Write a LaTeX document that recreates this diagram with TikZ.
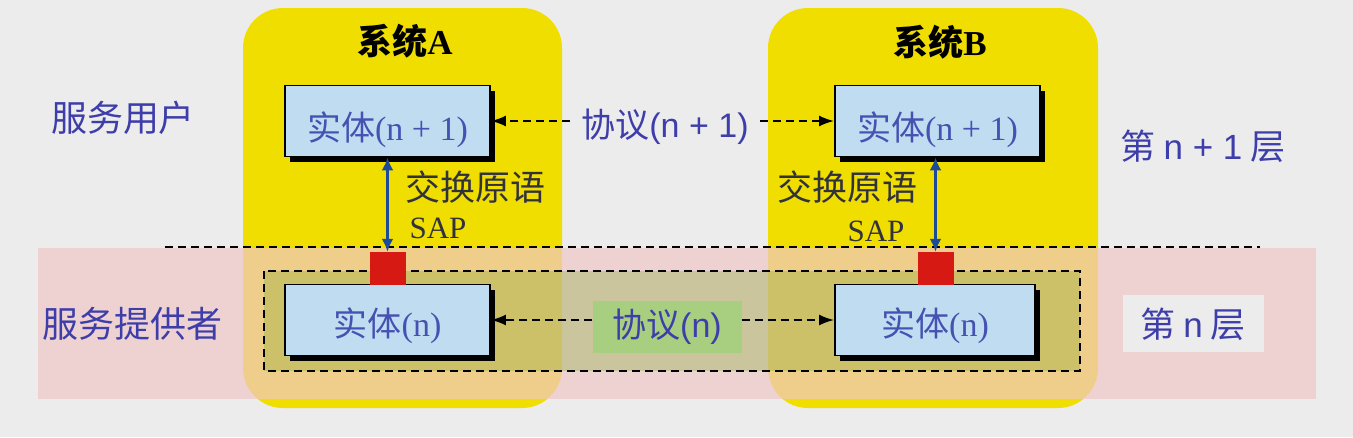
\documentclass[tikz,border=0pt]{standalone}
\usepackage{fontspec}
\setmainfont{Liberation Serif}
\newfontfamily\cjk{Noto Sans CJK SC}
\newfontfamily\lsans{Liberation Sans}
\usetikzlibrary{arrows.meta,shadows}
\definecolor{bg}{RGB}{236,236,236}
\definecolor{sysyellow}{RGB}{240,222,0}
\definecolor{pinkband}{RGB}{239,199,199}
\definecolor{olive}{RGB}{100,160,0}
\definecolor{entblue}{RGB}{192,220,240}
\definecolor{lblue}{RGB}{62,62,170}
\definecolor{eblue}{RGB}{70,82,178}
\definecolor{dgray}{RGB}{50,50,60}
\definecolor{arrblue}{RGB}{30,75,150}
\definecolor{redsq}{RGB}{215,25,20}
\definecolor{greenbox}{RGB}{168,207,128}
\tikzset{
  sysbox/.style={fill=sysyellow, rounded corners=40pt, inner sep=0pt},
  entbox/.style={draw=black, line width=1.8pt, fill=entblue, minimum width=205pt, minimum height=71pt,
    inner sep=0pt, text=eblue, font=\fontsize{34}{40}\selectfont,
    drop shadow={shadow xshift=5pt, shadow yshift=-5pt, fill=black, opacity=1}},
  lbl/.style={text=lblue, font=\cjk\fontsize{35}{40}\selectfont, inner sep=0pt},
  plbl/.style={text=lblue, font=\cjk\fontsize{34}{38}\selectfont},
  dlbl/.style={text=dgray, inner sep=0pt},
  title/.style={text=black, font=\bfseries\fontsize{35}{40}\selectfont, inner sep=0pt},
  dline/.style={line width=2pt, dash pattern=on 8pt off 5pt},
  darr/.style={dline, -{Latex[length=15pt,width=11pt]}},
  varr/.style={draw=arrblue, line width=3.4pt, {Latex[length=13pt,width=12pt]}-{Latex[length=13pt,width=12pt]}},
  sap/.style={fill=redsq, minimum width=36pt, minimum height=33pt, inner sep=0pt},
}
\begin{document}
\begin{tikzpicture}[x=1pt,y=-1pt]
\fill[bg] (0,0) rectangle (1353,437);
\useasboundingbox (0,0) rectangle (1353,437);
% systems
\node[sysbox, minimum width=319pt, minimum height=400pt] (sa) at (402.5,208) {};
\node[sysbox, minimum width=330pt, minimum height=400pt] (sb) at (933,208) {};
% pink band
\fill[pinkband, opacity=0.7] (38,248) rectangle (1316,399);
% layer separator
\coordinate (sepL) at (165,247);
\coordinate (sepR) at (1260,247);
\draw[dline] (sepL) -- (sepR);
% inner dashed region
\draw[dline, fill=olive, fill opacity=0.25] (264,271) rectangle (1080,371);
% titles
\node[title] (ta) at (405,41) {{\cjk 系统}A};
\node[title] (tb) at (940,42) {{\cjk 系统}B};
% entities
\node[entbox, text height=38pt, text depth=0pt] (a1) at (387.5,121) {{\cjk 实体}(n + 1)};
\node[entbox, text height=38pt, text depth=0pt] (b1) at (937.5,121) {{\cjk 实体}(n + 1)};
\node[entbox, text height=32pt, text depth=0pt] (a0) at (387.5,320) {{\cjk 实体}(n)};
\node[entbox, text height=32pt, text depth=0pt, minimum width=200pt] (b0) at (935,320) {{\cjk 实体}(n)};
% SAP squares
\node[sap] (ra) at (387.5,268.5) {};
\node[sap] (rb) at (935.5,268.5) {};
% vertical arrows
\draw[varr] (a1.south) -- (ra.north);
\draw[varr] (b1.south -| rb.north) -- (rb.north);
% labels
\node[dlbl, font=\cjk\fontsize{35}{40}\selectfont] (xa) at (475,187) {交换原语};
\node[dlbl, font=\cjk\fontsize{35}{40}\selectfont] (xb) at (847,187) {交换原语};
\node[dlbl, font=\fontsize{31}{36}\selectfont] (sapa) at (438,228) {SAP};
\node[dlbl, font=\fontsize{31}{36}\selectfont] (sapb) at (876,231) {SAP};
\node[lbl, font=\cjk\fontsize{36}{40}\selectfont] (user) at (123,118) {服务用户};
\node[lbl, font=\cjk\fontsize{36}{40}\selectfont] (prov) at (132,324) {服务提供者};
\node[lbl] (l1) at (1203,146) {第 {\lsans n + 1} 层};
\node[fill=bg, minimum width=141pt, minimum height=57pt, inner sep=0pt] (l0box) at (1193.5,323.5) {};
\node[lbl] (l0) at (1193,324) {第 {\lsans n} 层};
% protocols
\node[plbl, inner xsep=11pt] (p1) at (665,127) {协议{\lsans (n + 1)}};
\draw[darr] (p1.west |- a1.east) -- (a1.east);
\draw[darr] (p1.east |- b1.west) -- (b1.west);
\node[plbl, fill=greenbox, minimum width=149pt, minimum height=52pt, inner sep=0pt] (p0) at (667,327) {协议{\lsans (n)}};
\draw[darr] (p0.west |- a0.east) -- (a0.east);
\draw[darr] (p0.east |- b0.west) -- (b0.west);
\end{tikzpicture}
\end{document}
